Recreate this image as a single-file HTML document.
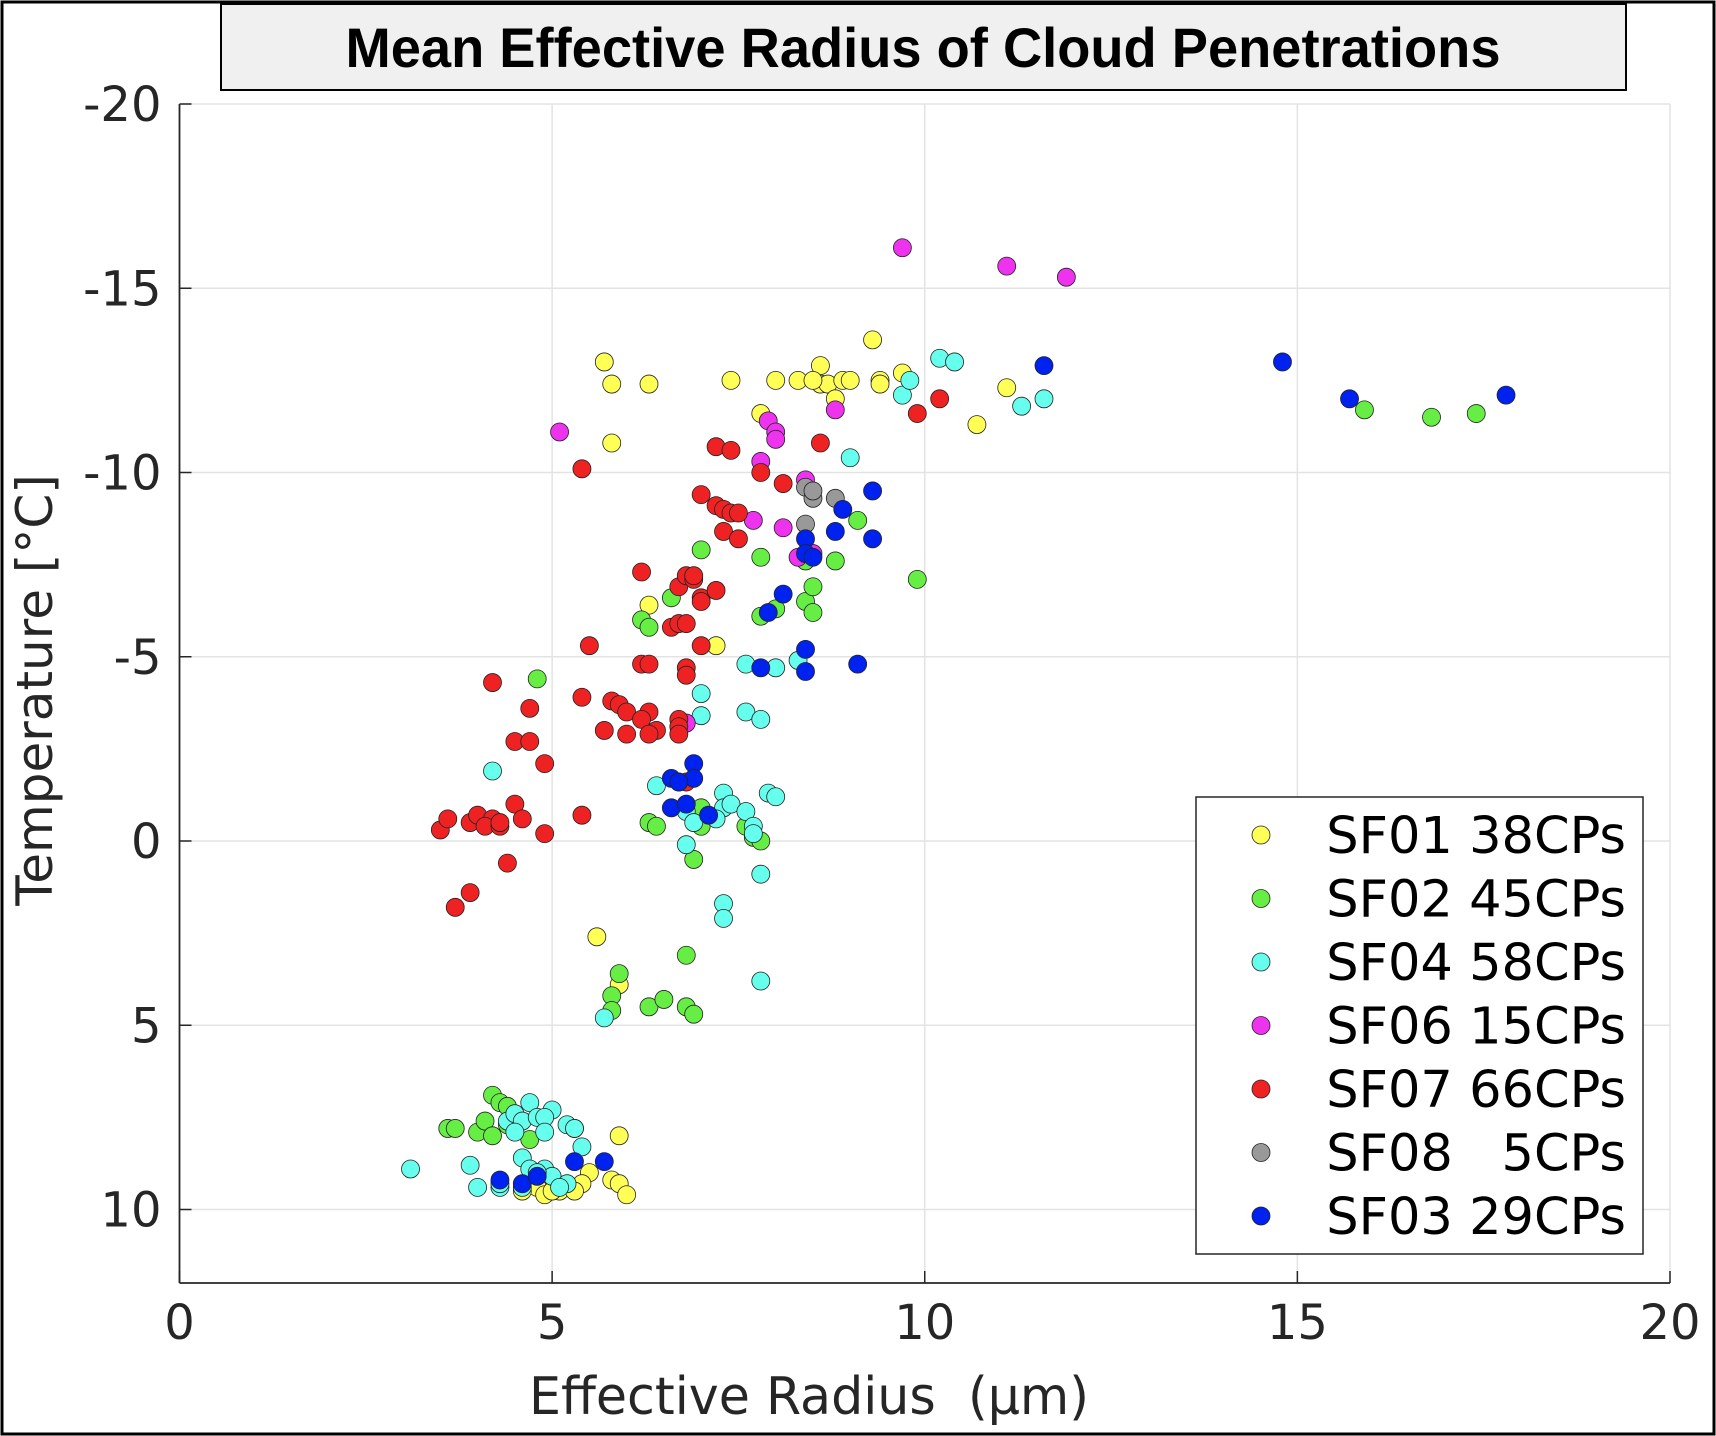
<!DOCTYPE html>
<html><head><meta charset="utf-8"><style>
html,body{margin:0;padding:0;background:#fff;}
svg{display:block;}
</style></head><body>
<svg id="chart" width="1716" height="1436" xmlns="http://www.w3.org/2000/svg" font-family="Liberation Sans, DejaVu Sans, sans-serif">
<rect x="2" y="2" width="1712" height="1432" fill="#fff" stroke="#000" stroke-width="3"/>
<g id="grid"></g>
<g id="axes"></g>
<g id="marks"></g>
<rect x="221" y="4" width="1405" height="86" fill="#f0f0f0" stroke="#000" stroke-width="2"/>
<text x="923" y="67" text-anchor="middle" font-size="56" font-weight="bold" textLength="1155" lengthAdjust="spacingAndGlyphs">Mean Effective Radius of Cloud Penetrations</text>
<text x="809" y="1414" text-anchor="middle" font-size="52" fill="#262626" font-family="DejaVu Sans, sans-serif" textLength="560" lengthAdjust="spacingAndGlyphs" xml:space="preserve" style="white-space:pre">Effective Radius  (μm)</text>
<text transform="translate(52,690) rotate(-90)" text-anchor="middle" font-size="50" fill="#262626" font-family="DejaVu Sans, sans-serif">Temperature [°C]</text>
<g id="legend"></g>
</svg>
<script>
const xTicks=[0,5,10,15,20];
const yTicks=[-20,-15,-10,-5,0,5,10];
const seriesNames=["SF01 38CPs","SF02 45CPs","SF04 58CPs","SF06 15CPs","SF07 66CPs","SF08   5CPs","SF03 29CPs"];
const seriesColors=["#ffff55","#66ee44","#66ffee","#ee33ee","#ee2222","#999999","#0022ee"];
const sf01=[[5.7,-13.0],[5.8,-12.4],[6.3,-12.4],[5.8,-10.8],[7.4,-12.5],[7.8,-11.6],[8.0,-12.5],[8.3,-12.5],[8.6,-12.9],[8.6,-12.4],[8.7,-12.4],[8.8,-12.0],[8.9,-12.5],[9.0,-12.5],[9.3,-13.6],[9.4,-12.5],[9.7,-12.7],[11.1,-12.3],[10.7,-11.3],[6.3,-6.4],[7.2,-5.3],[5.6,2.6],[5.9,3.9],[5.3,7.8],[5.9,8.0],[5.5,9.0],[5.8,9.2],[5.9,9.3],[5.4,9.3],[5.1,9.5],[5.3,9.5],[4.8,9.4],[4.6,9.5],[4.9,9.6],[6.0,9.6],[8.5,-12.5],[9.4,-12.4],[5.0,9.5]];
const sf02=[[4.8,-4.4],[6.2,-6.0],[6.3,-5.8],[6.6,-6.6],[7.0,-7.9],[7.8,-7.7],[7.8,-6.1],[8.4,-6.5],[8.5,-6.2],[8.5,-6.9],[8.8,-7.6],[9.1,-8.7],[9.9,-7.1],[8.4,-7.6],[6.3,-0.5],[6.4,-0.4],[7.0,-0.9],[7.6,-0.4],[7.7,-0.1],[7.8,0.0],[6.9,0.5],[6.8,3.1],[5.9,3.6],[5.8,4.2],[5.8,4.6],[6.3,4.5],[6.5,4.3],[6.8,4.5],[6.9,4.7],[15.9,-11.7],[16.8,-11.5],[17.4,-11.6],[4.2,6.9],[4.3,7.1],[4.4,7.2],[3.6,7.8],[3.7,7.8],[4.0,7.9],[4.1,7.6],[4.2,8.0],[4.7,8.1],[4.4,7.7],[6.7,-1.6],[7.0,-0.4],[8.0,-6.3]];
const sf04=[[9.0,-10.4],[9.7,-12.1],[9.8,-12.5],[10.2,-13.1],[10.4,-13.0],[11.3,-11.8],[11.6,-12.0],[7.6,-4.8],[8.0,-4.7],[8.3,-4.9],[7.0,-4.0],[7.0,-3.4],[7.6,-3.5],[7.8,-3.3],[6.4,-1.5],[7.3,-1.3],[7.3,-0.9],[7.2,-0.6],[7.4,-1.0],[7.9,-1.3],[8.0,-1.2],[6.8,-0.8],[6.9,-0.5],[7.6,-0.8],[7.7,-0.4],[7.7,-0.2],[6.8,0.1],[7.8,0.9],[7.3,1.7],[7.3,2.1],[7.8,3.8],[5.7,4.8],[4.2,-1.9],[3.1,8.9],[3.9,8.8],[4.0,9.4],[4.3,9.4],[4.4,7.6],[4.5,7.4],[4.6,7.6],[4.7,7.1],[4.8,7.5],[5.0,7.3],[4.9,7.5],[4.9,7.9],[5.2,7.7],[5.3,7.8],[5.4,8.3],[4.6,8.6],[4.7,8.9],[4.9,8.9],[5.0,9.1],[5.2,9.3],[4.6,9.4],[4.5,7.9],[4.3,9.3],[5.1,9.4],[4.8,9.0]];
const sf06=[[9.7,-16.1],[11.1,-15.6],[11.9,-15.3],[5.1,-11.1],[7.9,-11.4],[8.0,-11.1],[8.0,-10.9],[8.8,-11.7],[7.8,-10.3],[7.7,-8.7],[8.1,-8.5],[8.4,-9.8],[8.3,-7.7],[6.8,-3.2],[8.5,-7.8]];
const sf07=[[5.4,-10.1],[7.2,-10.7],[7.4,-10.6],[7.8,-10.0],[8.1,-9.7],[8.6,-10.8],[9.9,-11.6],[10.2,-12.0],[7.0,-9.4],[7.2,-9.1],[7.3,-9.0],[7.4,-8.9],[7.5,-8.9],[7.3,-8.4],[7.5,-8.2],[6.2,-7.3],[6.7,-6.9],[6.8,-7.2],[6.9,-7.1],[6.9,-7.2],[7.0,-6.6],[7.0,-6.5],[7.2,-6.8],[6.6,-5.8],[6.7,-5.9],[6.8,-5.9],[6.8,-4.7],[6.8,-4.5],[7.0,-5.3],[6.2,-4.8],[6.3,-4.8],[5.5,-5.3],[5.4,-3.9],[5.8,-3.8],[5.9,-3.7],[6.0,-3.5],[6.3,-3.5],[6.2,-3.3],[6.4,-3.0],[6.7,-3.3],[6.7,-3.1],[6.7,-2.9],[6.3,-2.9],[5.7,-3.0],[6.0,-2.9],[4.2,-4.3],[4.7,-3.6],[4.5,-2.7],[4.7,-2.7],[4.9,-2.1],[4.5,-1.0],[4.6,-0.6],[4.9,-0.2],[5.4,-0.7],[3.5,-0.3],[3.6,-0.6],[3.9,-0.5],[4.0,-0.7],[4.2,-0.6],[4.1,-0.4],[4.3,-0.4],[4.4,0.6],[3.7,1.8],[3.9,1.4],[6.8,-1.6],[4.3,-0.5]];
const sf08=[[8.4,-9.6],[8.5,-9.3],[8.8,-9.3],[8.4,-8.6],[8.5,-9.5]];
const sf03=[[11.6,-12.9],[14.8,-13.0],[15.7,-12.0],[17.8,-12.1],[9.3,-9.5],[9.3,-8.2],[8.9,-9.0],[8.8,-8.4],[8.4,-8.2],[8.4,-7.8],[8.5,-7.7],[8.1,-6.7],[7.9,-6.2],[7.8,-4.7],[8.4,-4.6],[8.4,-5.2],[9.1,-4.8],[6.9,-2.1],[6.9,-1.7],[6.6,-1.7],[6.7,-1.6],[6.6,-0.9],[6.8,-1.0],[7.1,-0.7],[4.3,9.2],[4.6,9.3],[4.8,9.1],[5.3,8.7],[5.7,8.7]];
const allSeries=[sf01,sf02,sf04,sf06,sf07,sf08,sf03];

const NS="http://www.w3.org/2000/svg";
const L=179.5,R=1670,T=104,B=1283;
function xs(v){return L+(v-0)/(20-0)*(R-L);}
function ys(v){return 104+(v+20)/30*(1209.5-104);}
function mk(tag,attrs,parent){const e=document.createElementNS(NS,tag);for(const k in attrs)e.setAttribute(k,attrs[k]);parent.appendChild(e);return e;}
const grid=document.getElementById('grid'),axes=document.getElementById('axes'),marks=document.getElementById('marks'),legend=document.getElementById('legend');
mk('rect',{x:L,y:T,width:R-L,height:B-T,fill:'#fff'},grid);
xTicks.forEach(t=>{
  const l=mk('line',{x1:xs(t),x2:xs(t),y1:T,y2:B,stroke:'#e3e3e3','stroke-width':1.5},grid);
  
  
  mk('line',{x1:xs(t),x2:xs(t),y1:B,y2:B-12,stroke:'#262626','stroke-width':1.5},axes);
  const tx=mk('text',{x:xs(t),y:B+56,'text-anchor':'middle','font-size':48,fill:'#262626','font-family':'DejaVu Sans, sans-serif'},axes);
  tx.textContent=t;
  
  
});
yTicks.forEach(t=>{
  const l=mk('line',{x1:L,x2:R,y1:ys(t),y2:ys(t),stroke:'#e3e3e3','stroke-width':1.5},grid);
  
  
  mk('line',{x1:L,x2:L+12,y1:ys(t),y2:ys(t),stroke:'#262626','stroke-width':1.5},axes);
  const tx=mk('text',{x:L-18,y:ys(t)+17,'text-anchor':'end','font-size':48,fill:'#262626','font-family':'DejaVu Sans, sans-serif'},axes);
  tx.textContent=t;
  
  
});
mk('line',{x1:L,x2:L,y1:T,y2:B,stroke:'#262626','stroke-width':1.8},axes);
mk('line',{x1:L,x2:R,y1:B,y2:B,stroke:'#262626','stroke-width':1.8},axes);
allSeries.forEach((s,i)=>{
  s.forEach(p=>{
    const c=mk('circle',{cx:xs(p[0]),cy:ys(p[1]),r:9,fill:seriesColors[i],stroke:'#222','stroke-width':0.8},marks);
    
    
  });
});
mk('rect',{x:1196,y:797,width:447,height:457,fill:'#fff',stroke:'#262626','stroke-width':1.5},legend);
seriesNames.forEach((n,i)=>{
  const y=835+i*63.5;
  const c=mk('circle',{cx:1261,cy:y,r:9,fill:seriesColors[i],stroke:'#222','stroke-width':0.8},legend);
  
  
  const t=mk('text',{x:1626,y:y+18,'text-anchor':'end','font-size':51,fill:'#000','font-family':'DejaVu Sans, sans-serif'},legend);
  t.setAttribute('xml:space','preserve');
  t.style.whiteSpace='pre';
  t.textContent=n;
  
  
});
</script>
</body></html>
